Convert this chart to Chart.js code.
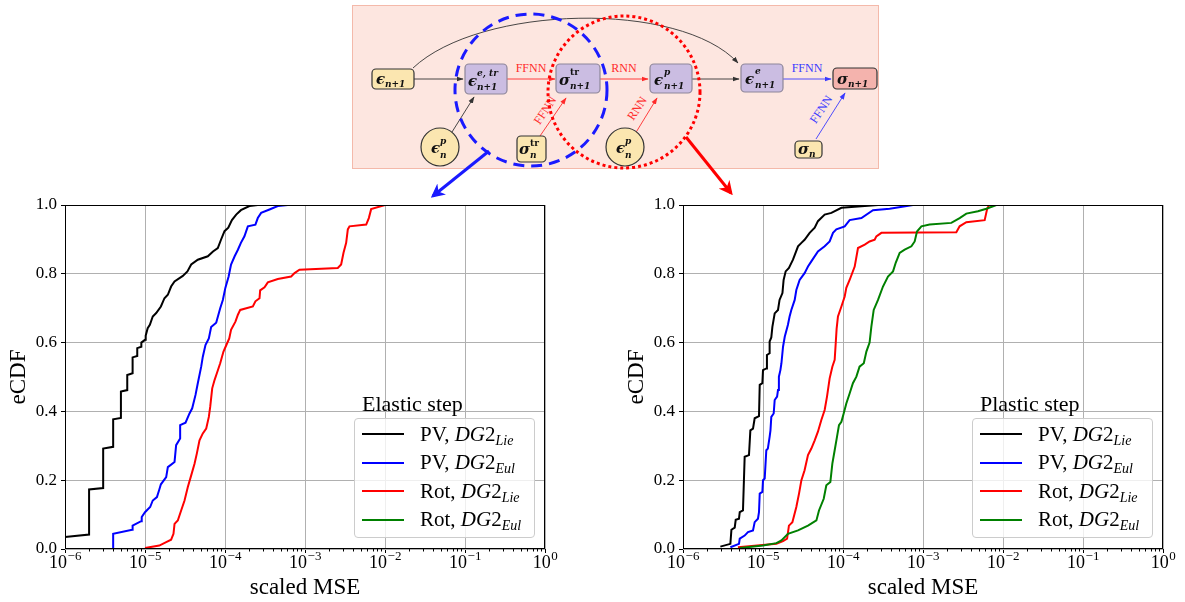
<!DOCTYPE html>
<html lang="en">
<head>
<meta charset="UTF-8">
<title>eCDF of scaled MSE</title>
<script src="https://cdn.jsdelivr.net/npm/chart.js"></script>
<style>
  body { margin: 0; background: #fff; }
  #page { position: relative; width: 1185px; height: 602px; overflow: hidden; font-family: "Liberation Serif", serif; color: #000; }
  #page canvas { position: absolute; }
  #diagram { position: absolute; left: 0; top: 0; }
  .m  { font: italic bold 15px "DejaVu Serif", serif; fill: #111; }
  .s  { font: italic bold 9px "DejaVu Serif", serif; fill: #111; }
  .sr { font: bold 9px "DejaVu Serif", serif; fill: #111; }
  .lbl { font: 12px "Liberation Serif", serif; }
  .legend-title { position: absolute; font-size: 22px; line-height: 1; white-space: nowrap; }
  .legend { position: absolute; width: 181px; height: 120px; box-sizing: border-box; border: 1px solid #cccccc; border-radius: 4px; background: rgba(255,255,255,0.8); }
  .legend .row { position: absolute; left: 0; height: 28px; display: flex; align-items: center; font-size: 21px; white-space: nowrap; }
  .legend .swatch { display: inline-block; width: 42px; height: 2px; margin-left: 7px; margin-right: 16px; }
  .legend sub { font-size: 14px; vertical-align: -4px; line-height: 0; }
</style>
</head>
<body>
<div id="page">
  <canvas id="elasticChart" width="560" height="412" style="left:0;top:190px"></canvas>
  <canvas id="plasticChart" width="560" height="412" style="left:618px;top:190px"></canvas>

  <!-- network sketch above the two plots -->
  <svg id="diagram" width="1185" height="205" viewBox="0 0 1185 205">
    <defs>
      <marker id="ak" viewBox="0 0 10 10" refX="9" refY="5" markerUnits="userSpaceOnUse" markerWidth="7" markerHeight="7" orient="auto"><path d="M0,1.5 L10,5 L0,8.5 z" fill="#333"/></marker>
      <marker id="ar" viewBox="0 0 10 10" refX="9" refY="5" markerUnits="userSpaceOnUse" markerWidth="7" markerHeight="7" orient="auto"><path d="M0,1.5 L10,5 L0,8.5 z" fill="#ff2a2a"/></marker>
      <marker id="ab" viewBox="0 0 10 10" refX="9" refY="5" markerUnits="userSpaceOnUse" markerWidth="7" markerHeight="7" orient="auto"><path d="M0,1.5 L10,5 L0,8.5 z" fill="#3a3aff"/></marker>
      <marker id="bigB" viewBox="0 0 10 10" refX="8" refY="5" markerUnits="userSpaceOnUse" markerWidth="14" markerHeight="14" orient="auto"><path d="M0,0 L10,5 L0,10 L3,5 z" fill="#1a1aff"/></marker>
      <marker id="bigR" viewBox="0 0 10 10" refX="8" refY="5" markerUnits="userSpaceOnUse" markerWidth="14" markerHeight="14" orient="auto"><path d="M0,0 L10,5 L0,10 L3,5 z" fill="#ff0000"/></marker>
    </defs>
    <rect x="352.5" y="5.5" width="526" height="163" fill="#fde6e0" stroke="#f4b9aa"/>

    <!-- arrows -->
    <g fill="none" stroke-width="0.9">
      <path d="M413 68 C480 5 680 0 738 63" stroke="#333" marker-end="url(#ak)"/>
      <path d="M414 79 L463 79" stroke="#333" marker-end="url(#ak)"/>
      <path d="M507 79 L555 79" stroke="#ff2a2a" marker-end="url(#ar)"/>
      <path d="M600 79 L648 79" stroke="#ff2a2a" marker-end="url(#ar)"/>
      <path d="M692 79 L739 79" stroke="#333" marker-end="url(#ak)"/>
      <path d="M783 79 L831 79" stroke="#3a3aff" marker-end="url(#ab)"/>
      <path d="M452 132 L474 97" stroke="#333" marker-end="url(#ak)"/>
      <path d="M540 136 L566 98" stroke="#ff2a2a" marker-end="url(#ar)"/>
      <path d="M635 134 L657 98" stroke="#ff2a2a" marker-end="url(#ar)"/>
      <path d="M816 139 L845 93" stroke="#3a3aff" marker-end="url(#ab)"/>
    </g>
    <text class="lbl" x="531" y="72" text-anchor="middle" fill="#ff2a2a">FFNN</text>
    <text class="lbl" x="624" y="72" text-anchor="middle" fill="#ff2a2a">RNN</text>
    <text class="lbl" x="807" y="72" text-anchor="middle" fill="#3a3aff">FFNN</text>
    <text class="lbl" transform="translate(546,111) rotate(-56)" text-anchor="middle" dominant-baseline="middle" fill="#ff2a2a">FFNN</text>
    <text class="lbl" transform="translate(638,109) rotate(-56)" text-anchor="middle" dominant-baseline="middle" fill="#ff2a2a">RNN</text>
    <text class="lbl" transform="translate(822,110) rotate(-56)" text-anchor="middle" dominant-baseline="middle" fill="#3a3aff">FFNN</text>

    <!-- nodes -->
    <rect x="372" y="69" width="42" height="20" rx="4" fill="#fbe6b0" stroke="#333" stroke-width="1.2"/>
    <text class="m" x="376" y="84">ϵ</text><text class="s" x="385" y="87">n+1</text>

    <rect x="465" y="64" width="42" height="30" rx="4" fill="#cbbde2" stroke="#8e8699" stroke-width="1.2"/>
    <text class="m" x="468" y="86">ϵ</text><text class="s" x="477" y="76">e, tr</text><text class="s" x="477" y="90">n+1</text>

    <rect x="556" y="64" width="44" height="29" rx="4" fill="#cbbde2" stroke="#8e8699" stroke-width="1.2"/>
    <text class="m" x="559" y="85">σ</text><text class="sr" x="570" y="75">tr</text><text class="s" x="570" y="89">n+1</text>

    <rect x="650" y="64" width="42" height="29" rx="4" fill="#cbbde2" stroke="#8e8699" stroke-width="1.2"/>
    <text class="m" x="654" y="85">ϵ</text><text class="s" x="664" y="75">p</text><text class="s" x="664" y="89">n+1</text>

    <rect x="741" y="64" width="42" height="28" rx="4" fill="#cbbde2" stroke="#8e8699" stroke-width="1.2"/>
    <text class="m" x="745" y="84">ϵ</text><text class="s" x="755" y="74">e</text><text class="s" x="755" y="88">n+1</text>

    <rect x="833" y="68" width="44" height="21" rx="4" fill="#f4b3ad" stroke="#333" stroke-width="1.2"/>
    <text class="m" x="837" y="84">σ</text><text class="s" x="848" y="87">n+1</text>

    <circle cx="440" cy="147" r="19" fill="#fbe6b0" stroke="#333" stroke-width="1.2"/>
    <text class="m" x="431" y="153">ϵ</text><text class="s" x="440" y="144">p</text><text class="s" x="440" y="158">n</text>

    <rect x="517" y="136" width="29" height="26" rx="4" fill="#fbe6b0" stroke="#333" stroke-width="1.2"/>
    <text class="m" x="519" y="154">σ</text><text class="sr" x="530" y="146">tr</text><text class="s" x="530" y="158">n</text>

    <circle cx="625" cy="147" r="19" fill="#fbe6b0" stroke="#333" stroke-width="1.2"/>
    <text class="m" x="616" y="153">ϵ</text><text class="s" x="625" y="144">p</text><text class="s" x="625" y="158">n</text>

    <rect x="795" y="141" width="27" height="17" rx="4" fill="#fbe6b0" stroke="#333" stroke-width="1.2"/>
    <text class="m" x="798" y="154">σ</text><text class="s" x="809" y="157">n</text>

    <!-- elastic / plastic groupings -->
    <circle cx="531" cy="90" r="76" fill="none" stroke="#1a1aff" stroke-width="3" stroke-dasharray="11 7"/>
    <circle cx="624" cy="92" r="76" fill="none" stroke="#ff0000" stroke-width="3" stroke-dasharray="3 3"/>
    <path d="M489 151 L433 196" stroke="#1a1aff" stroke-width="3" fill="none" marker-end="url(#bigB)"/>
    <path d="M686 137 L731 193" stroke="#ff0000" stroke-width="3" fill="none" marker-end="url(#bigR)"/>
  </svg>
</div>

<script>
// axis ticks
const mseDecades = [-6, -5, -4, -3, -2, -1, 0];
const cdfTicks = [0, 0.2, 0.4, 0.6, 0.8, 1.0];

// legend entries: [model, rotation parametrisation]
const seriesLabels = [['PV', 'Lie'], ['PV', 'Eul'], ['Rot', 'Lie'], ['Rot', 'Eul']];
const seriesColors = ['#000000', '#0000ff', '#ff0000', '#008000'];

// eCDF curves, [scaled MSE, eCDF]
const elasticPvLie = [[1.0e-6,0.035],[2.0e-6,0.042],[2.0e-6,0.173],[3.0e-6,0.177],[3.0e-6,0.292],[4.0e-6,0.297],[4.0e-6,0.377],[5.0e-6,0.381],[5.0e-6,0.458],[6.0e-6,0.462],[6.0e-6,0.506],[7.0e-6,0.511],[7.0e-6,0.557],[8.0e-6,0.561],[8.0e-6,0.584],[9.0e-6,0.588],[9.0e-6,0.600],[1.0e-5,0.608],[1.02e-5,0.620],[1.08e-5,0.642],[1.15e-5,0.652],[1.25e-5,0.676],[1.38e-5,0.686],[1.58e-5,0.705],[1.75e-5,0.729],[1.93e-5,0.739],[2.12e-5,0.763],[2.34e-5,0.778],[2.97e-5,0.794],[3.39e-5,0.807],[3.78e-5,0.827],[4.57e-5,0.841],[6.10e-5,0.851],[7.08e-5,0.865],[8.13e-5,0.875],[8.91e-5,0.899],[9.86e-5,0.924],[1.10e-4,0.934],[1.22e-4,0.956],[1.38e-4,0.972],[1.58e-4,0.985],[2.02e-4,0.997],[2.57e-4,1.0]];
const elasticPvEul = [[4.0e-6,0.0],[4.0e-6,0.044],[6.9e-6,0.056],[7.0e-6,0.068],[8.95e-6,0.081],[9.1e-6,0.093],[1.0e-5,0.107],[1.16e-5,0.122],[1.25e-5,0.141],[1.41e-5,0.151],[1.51e-5,0.173],[1.58e-5,0.188],[1.84e-5,0.209],[1.93e-5,0.238],[2.34e-5,0.253],[2.45e-5,0.302],[2.75e-5,0.321],[2.75e-5,0.360],[3.21e-5,0.367],[3.60e-5,0.394],[3.89e-5,0.409],[4.28e-5,0.448],[4.57e-5,0.482],[5.04e-5,0.530],[5.28e-5,0.559],[5.70e-5,0.593],[6.28e-5,0.612],[6.71e-5,0.645],[7.76e-5,0.658],[8.71e-5,0.700],[9.40e-5,0.724],[1.01e-4,0.759],[1.11e-4,0.792],[1.19e-4,0.827],[1.32e-4,0.851],[1.45e-4,0.870],[1.58e-4,0.890],[1.75e-4,0.909],[1.93e-4,0.938],[2.40e-4,0.943],[2.57e-4,0.962],[2.83e-4,0.977],[3.60e-4,0.987],[4.57e-4,0.997],[6.10e-4,1.0]];
const elasticRotLie = [[1.0e-5,0.003],[1.51e-5,0.010],[1.84e-5,0.020],[2.12e-5,0.027],[2.27e-5,0.044],[2.34e-5,0.073],[2.57e-5,0.083],[2.83e-5,0.112],[3.12e-5,0.141],[3.43e-5,0.180],[3.78e-5,0.214],[4.16e-5,0.248],[4.45e-5,0.278],[4.80e-5,0.316],[5.28e-5,0.336],[5.82e-5,0.350],[6.28e-5,0.384],[6.53e-5,0.413],[6.92e-5,0.467],[7.40e-5,0.491],[7.91e-5,0.511],[8.71e-5,0.540],[9.57e-5,0.574],[1.04e-4,0.593],[1.13e-4,0.612],[1.19e-4,0.637],[1.35e-4,0.661],[1.45e-4,0.681],[1.55e-4,0.695],[2.23e-4,0.705],[2.40e-4,0.720],[2.70e-4,0.729],[2.75e-4,0.752],[3.12e-4,0.761],[3.43e-4,0.775],[4.57e-4,0.785],[6.71e-4,0.792],[7.40e-4,0.802],[8.53e-4,0.812],[2.57e-3,0.817],[2.83e-3,0.827],[3.03e-3,0.861],[3.27e-3,0.890],[3.43e-3,0.929],[3.60e-3,0.938],[5.82e-3,0.943],[6.28e-3,0.962],[6.71e-3,0.988],[1.0e-2,1.0]];
const elasticRotEul = [];

const plasticPvLie = [[2.93e-6,0.007],[3.91e-6,0.015],[4.03e-6,0.056],[4.43e-6,0.062],[4.56e-6,0.085],[5.01e-6,0.088],[5.12e-6,0.107],[5.62e-6,0.112],[5.90e-6,0.268],[6.68e-6,0.273],[6.95e-6,0.345],[7.50e-6,0.350],[7.87e-6,0.380],[8.91e-6,0.386],[9.10e-6,0.477],[9.82e-6,0.482],[1.0e-5,0.520],[1.10e-5,0.525],[1.12e-5,0.564],[1.21e-5,0.569],[1.21e-5,0.603],[1.27e-5,0.615],[1.31e-5,0.646],[1.40e-5,0.685],[1.54e-5,0.695],[1.61e-5,0.724],[1.75e-5,0.744],[1.81e-5,0.782],[1.92e-5,0.807],[2.11e-5,0.817],[2.37e-5,0.841],[2.74e-5,0.880],[3.02e-5,0.890],[3.31e-5,0.899],[3.83e-5,0.919],[4.43e-5,0.934],[4.86e-5,0.953],[5.90e-5,0.972],[7.16e-5,0.977],[9.55e-5,0.992],[2.74e-4,1.0]];
const plasticPvEul = [[3.91e-6,0.005],[5.01e-6,0.015],[5.12e-6,0.030],[5.90e-6,0.039],[6.49e-6,0.049],[7.50e-6,0.054],[7.87e-6,0.078],[8.65e-6,0.088],[8.91e-6,0.107],[9.10e-6,0.161],[9.82e-6,0.166],[1.0e-5,0.200],[1.05e-5,0.205],[1.10e-5,0.287],[1.15e-5,0.292],[1.21e-5,0.326],[1.24e-5,0.345],[1.27e-5,0.384],[1.36e-5,0.394],[1.40e-5,0.433],[1.50e-5,0.443],[1.54e-5,0.462],[1.58e-5,0.501],[1.65e-5,0.520],[1.70e-5,0.540],[1.78e-5,0.588],[1.87e-5,0.617],[2.05e-5,0.652],[2.15e-5,0.676],[2.26e-5,0.695],[2.49e-5,0.724],[2.61e-5,0.753],[2.87e-5,0.782],[3.31e-5,0.802],[3.65e-5,0.821],[4.02e-5,0.836],[4.86e-5,0.865],[5.90e-5,0.880],[6.81e-5,0.894],[7.50e-5,0.919],[8.26e-5,0.929],[1.05e-4,0.938],[1.21e-4,0.956],[1.70e-4,0.962],[2.37e-4,0.985],[3.83e-4,0.989],[7.50e-4,1.0]];
const plasticRotLie = [[4.86e-6,0.005],[1.47e-5,0.015],[1.78e-5,0.023],[2.0e-5,0.030],[2.11e-5,0.068],[2.33e-5,0.078],[2.61e-5,0.122],[2.82e-5,0.161],[3.02e-5,0.200],[3.31e-5,0.229],[3.65e-5,0.273],[4.02e-5,0.292],[4.43e-5,0.316],[4.86e-5,0.341],[5.36e-5,0.375],[5.90e-5,0.404],[6.31e-5,0.443],[6.81e-5,0.496],[7.36e-5,0.530],[7.87e-5,0.550],[8.11e-5,0.598],[8.32e-5,0.640],[8.65e-5,0.676],[9.55e-5,0.705],[1.05e-4,0.734],[1.10e-4,0.759],[1.21e-4,0.782],[1.40e-4,0.821],[1.54e-4,0.875],[1.87e-4,0.885],[2.15e-4,0.894],[2.49e-4,0.899],[2.61e-4,0.909],[3.02e-4,0.919],[2.61e-3,0.921],[2.87e-3,0.938],[3.48e-3,0.950],[5.90e-3,0.956],[6.31e-3,0.987],[6.68e-3,1.0]];
const plasticRotEul = [[5.12e-6,0.003],[1.0e-5,0.010],[1.47e-5,0.017],[1.70e-5,0.025],[2.05e-5,0.044],[2.74e-5,0.054],[3.65e-5,0.068],[4.65e-5,0.083],[5.01e-5,0.112],[5.74e-5,0.146],[6.19e-5,0.185],[6.95e-5,0.195],[7.36e-5,0.248],[7.87e-5,0.287],[8.41e-5,0.326],[8.91e-5,0.360],[9.55e-5,0.370],[1.02e-4,0.394],[1.10e-4,0.423],[1.21e-4,0.452],[1.33e-4,0.482],[1.47e-4,0.501],[1.61e-4,0.530],[1.82e-4,0.540],[1.96e-4,0.574],[2.15e-4,0.600],[2.26e-4,0.646],[2.42e-4,0.695],[2.74e-4,0.724],[3.16e-4,0.763],[3.65e-4,0.792],[4.22e-4,0.807],[4.56e-4,0.832],[5.11e-4,0.861],[5.90e-4,0.870],[7.16e-4,0.880],[7.87e-4,0.894],[8.41e-4,0.923],[9.55e-4,0.938],[1.21e-3,0.943],[2.26e-3,0.948],[2.87e-3,0.962],[3.48e-3,0.975],[4.86e-3,0.982],[6.19e-3,0.989],[8.26e-3,1.0]];

Chart.defaults.font.family = '"Liberation Serif", serif';
Chart.defaults.color = '#000';

// frame, minor ticks and 10^k labels for the log axis
const logAxisDecor = {
  id: 'logAxisDecor',
  afterDatasetsDraw(chart) {
    const { ctx, chartArea: a, scales: { x } } = chart;
    ctx.save();
    ctx.strokeStyle = '#000';
    ctx.lineWidth = 1;
    ctx.beginPath();
    for (let e = -6; e < 0; e++) {
      for (let m = 2; m <= 9; m++) {
        const px = Math.round(x.getPixelForValue(m * Math.pow(10, e))) + 0.5;
        ctx.moveTo(px, a.bottom);
        ctx.lineTo(px, a.bottom + 2.5);
      }
    }
    ctx.stroke();
    ctx.strokeRect(Math.round(a.left) + 0.5, Math.round(a.top) + 0.5,
                   Math.round(a.right - a.left) - 1, Math.round(a.bottom - a.top) - 1);

    ctx.fillStyle = '#000';
    ctx.textAlign = 'left';
    ctx.textBaseline = 'alphabetic';
    mseDecades.forEach(e => {
      const px = x.getPixelForValue(Math.pow(10, e));
      const exp = e < 0 ? '\u2212' + (-e) : String(e);
      ctx.font = '18px "Liberation Serif"';
      const wb = ctx.measureText('10').width;
      ctx.font = '13px "Liberation Serif"';
      const we = ctx.measureText(exp).width;
      const x0 = px - (wb + we) / 2;
      ctx.font = '18px "Liberation Serif"';
      ctx.fillText('10', x0, a.bottom + 19);
      ctx.font = '13px "Liberation Serif"';
      ctx.fillText(exp, x0 + wb + 0.5, a.bottom + 11);
    });
    ctx.restore();
  }
};

function makeChart(id, series) {
  const datasets = series.map((pts, i) => ({
    label: seriesLabels[i].join(', '),
    data: pts.map(p => ({ x: p[0], y: p[1] })),
    showLine: true,
    borderColor: seriesColors[i],
    backgroundColor: seriesColors[i],
    borderWidth: 2,
    pointRadius: 0,
    tension: 0,
    fill: false,
    order: series.length - i
  }));
  return new Chart(document.getElementById(id), {
    type: 'scatter',
    data: { datasets },
    plugins: [logAxisDecor],
    options: {
      responsive: false,
      animation: false,
      devicePixelRatio: 1,
      events: [],
      layout: { padding: { top: 15, right: 15, left: 0, bottom: 0 } },
      plugins: { legend: { display: false }, tooltip: { enabled: false } },
      scales: {
        x: {
          type: 'logarithmic',
          min: 1e-6,
          max: 1,
          afterBuildTicks(scale) {
            scale.ticks = mseDecades.map(e => ({ value: Math.pow(10, e), major: true }));
          },
          afterFit(scale) { scale.height = 53; },
          ticks: { display: false },
          grid: { color: '#b0b0b0', lineWidth: 1, tickColor: '#000', tickLength: 4 },
          border: { display: false },
          title: { display: true, text: 'scaled MSE', font: { size: 23 }, padding: { top: 0, bottom: 0 } }
        },
        y: {
          min: 0,
          max: 1,
          afterBuildTicks(scale) {
            scale.ticks = cdfTicks.map(v => ({ value: v }));
          },
          afterFit(scale) { scale.width = 65; },
          ticks: { font: { size: 17 }, padding: 4, callback: v => v.toFixed(1) },
          grid: { color: '#b0b0b0', lineWidth: 1, tickColor: '#000', tickLength: 4 },
          border: { display: false },
          title: { display: true, text: 'eCDF', font: { size: 23 }, padding: { top: 5, bottom: 0 } }
        }
      }
    }
  });
}

function makeLegend(title, left, top) {
  const page = document.getElementById('page');
  const t = document.createElement('div');
  t.className = 'legend-title';
  t.style.left = (left + 8) + 'px';
  t.style.top = (top - 25) + 'px';
  t.textContent = title;
  page.appendChild(t);

  const box = document.createElement('div');
  box.className = 'legend';
  box.style.left = left + 'px';
  box.style.top = top + 'px';
  seriesLabels.forEach((lab, i) => {
    const row = document.createElement('div');
    row.className = 'row';
    row.style.top = (1 + i * 28.6) + 'px';
    row.innerHTML = '<span class="swatch" style="background:' + seriesColors[i] + '"></span>' +
      '<span>' + lab[0] + ', <i>DG</i>2<sub><i>' + lab[1] + '</i></sub></span>';
    box.appendChild(row);
  });
  page.appendChild(box);
}

makeChart('elasticChart', [elasticPvLie, elasticPvEul, elasticRotLie, elasticRotEul]);
makeChart('plasticChart', [plasticPvLie, plasticPvEul, plasticRotLie, plasticRotEul]);
makeLegend('Elastic step', 354, 418);
makeLegend('Plastic step', 972, 418);
</script>
</body>
</html>
